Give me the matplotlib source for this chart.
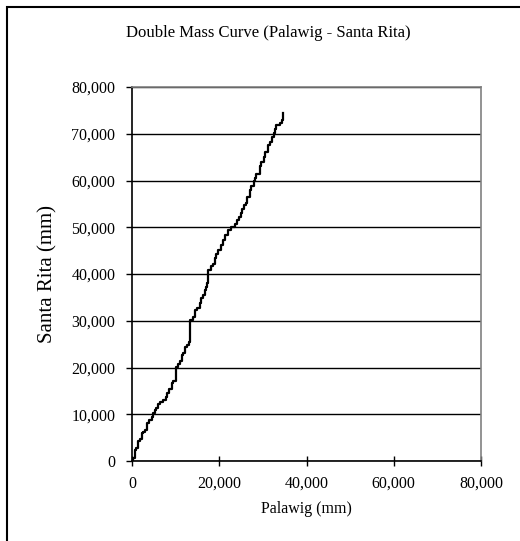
import matplotlib
matplotlib.use("Agg")
import matplotlib.pyplot as plt
from matplotlib.patches import Rectangle
from matplotlib.ticker import FuncFormatter

# cumulative rainfall (mm)
palawig = [0, 300, 600, 700, 1000, 1300, 1450, 1900, 2200, 2600, 3000, 3350, 3500,
           4000, 4500, 4700, 5200, 5500, 6000, 6400, 7000, 7900, 8100, 8500, 9100,
           9400, 10000, 10200, 10200, 10600, 11000, 11400, 11800, 12100, 12500,
           13000, 13300, 13300, 13900, 14400, 15000, 15500, 15800, 16200, 16700,
           17000, 17100, 17500, 17500, 18000, 18500, 19000, 19300, 19800, 20300,
           20900, 21300, 22000, 22600, 23500, 24000, 24500, 25000, 25200, 25700,
           26100, 26300, 27000, 27300, 28000, 28200, 28500, 29300, 29500, 30300,
           30600, 31200, 31600, 32200, 32600, 32800, 33100, 34000, 34400, 34700]
santa_rita = [0, 700, 1500, 2400, 2800, 3500, 4200, 4700, 5900, 6200, 6700, 7400, 8200,
              8800, 9500, 10300, 10900, 11300, 12100, 12700, 13000, 13700, 14600, 15500,
              16600, 17200, 17700, 18100, 20100, 20800, 21300, 22700, 23200, 24300,
              24800, 25500, 26000, 30100, 30700, 32300, 32700, 33700, 34800, 35500,
              36600, 37300, 38000, 39400, 40900, 41700, 42200, 43400, 44300, 45200,
              46100, 47300, 48300, 49400, 50000, 50800, 51600, 52200, 53000, 54000,
              54800, 55200, 56500, 58000, 58900, 59800, 60500, 61300, 63000, 64000,
              65100, 66200, 67500, 68300, 69200, 70100, 71000, 71900, 72400, 73000, 74400]

ticks = [0, 10000, 20000, 30000, 40000, 50000, 60000, 70000, 80000]
xticks = [0, 20000, 40000, 60000, 80000]

plt.rcParams["font.family"] = ["Liberation Serif", "DejaVu Serif"]

fig = plt.figure(figsize=(5.2, 5.41), dpi=100)
ax = fig.add_axes([132 / 520, 1 - 461 / 541, 349 / 520, 374 / 541])

ax.plot(palawig, santa_rita, color="black", lw=1.6, drawstyle="steps-post")

ax.set_xlim(0, 80000)
ax.set_ylim(0, 80000)
ax.set_xticks(xticks)
ax.set_yticks(ticks)
fmt = FuncFormatter(lambda v, p: "{:,.0f}".format(v))
ax.xaxis.set_major_formatter(fmt)
ax.yaxis.set_major_formatter(fmt)
ax.yaxis.grid(True, color="black", lw=1.0)
ax.set_axisbelow(True)

ax.tick_params(axis="y", direction="out", length=4, width=1, pad=8,
               labelsize=11.5, colors="black")
ax.tick_params(axis="x", direction="inout", length=7, width=1, pad=7,
               labelsize=11.5, colors="black")
for s in ["top", "right"]:
    ax.spines[s].set_color("#808080")
    ax.spines[s].set_linewidth(1.2)
for s in ["left", "bottom"]:
    ax.spines[s].set_color("black")
    ax.spines[s].set_linewidth(1.2)

ax.set_xlabel("Palawig (mm)", fontsize=11.5, labelpad=7)
ax.set_ylabel("Santa Rita (mm)", fontsize=15, labelpad=10)
fig.text(268 / 520, 1 - 33 / 541, "Double Mass Curve (Palawig - Santa Rita)",
         ha="center", va="center", fontsize=12)

fig.patches.append(Rectangle((7 / 520, -0.1), 1.2, 1.1 - 7 / 541,
                             transform=fig.transFigure, fill=False,
                             edgecolor="black", lw=1.5))

fig.savefig("out.png", dpi=100)
